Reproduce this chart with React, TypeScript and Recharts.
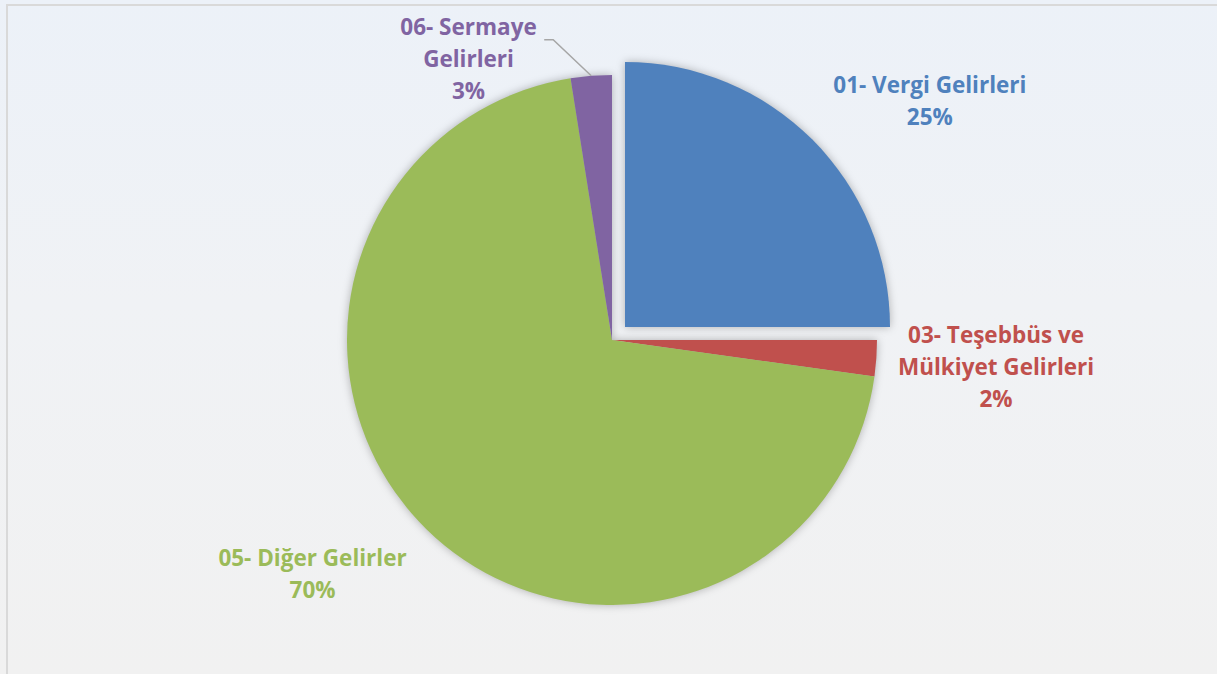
import React from "react";
import { PieChart, Pie, Cell } from "recharts";

const categories = ["01- Vergi Gelirleri", "03- Teşebbüs ve Mülkiyet Gelirleri", "05- Diğer Gelirler", "06- Sermaye Gelirleri"];
const values = [25.0, 2.2, 70.3, 2.5];
const percentLabels = ["25%", "2%", "70%", "3%"];
const labelLines = [["01- Vergi Gelirleri"], ["03- Teşebbüs ve", "Mülkiyet Gelirleri"], ["05- Diğer Gelirler"], ["06- Sermaye", "Gelirleri"]];
const colors = ["#4F81BD", "#C0504D", "#9BBB59", "#8064A2"];

const data = categories.map((name, i) => ({ name, value: values[i] }));

// label placement (polar: angle in degrees, radius in px from pie centre)
const LABEL_POLAR = [
  { a: 37, r: 398 },
  { a: -4, r: 385 },
  { a: -142, r: 380 },
  { a: 117, r: 316 },
];
const RAD = Math.PI / 180;
const LINE_H = 32;
const FONT = "'Open Sans', sans-serif";

const renderLabel = (props: any) => {
  const { cx, cy, midAngle, outerRadius, index } = props;
  const lp = LABEL_POLAR[index];
  const x = cx + lp.r * Math.cos(lp.a * RAD);
  const y = cy - lp.r * Math.sin(lp.a * RAD);
  const lines = [...labelLines[index], percentLabels[index]];
  const y0 = y - ((lines.length - 1) * LINE_H) / 2;
  let leader = null;
  if (index === 3) {
    const px = cx + outerRadius * Math.cos(midAngle * RAD);
    const py = cy - outerRadius * Math.sin(midAngle * RAD);
    const ex = px - 38;
    const ey = py - 36;
    leader = (
      <polyline points={`${px},${py} ${ex},${ey} ${ex - 9},${ey}`} fill="none" stroke="#A6A6A6" strokeWidth={1.5} />
    );
  }
  return (
    <g key={`lbl-${index}`}>
      {leader}
      <text x={x} y={y0} textAnchor="middle" fill={colors[index]} fontFamily={FONT} fontWeight="bold" fontSize={22.5}>
        {lines.map((t, i) => (
          <tspan key={i} x={x} y={y0 + i * LINE_H} dominantBaseline="central">
            {t}
          </tspan>
        ))}
      </text>
    </g>
  );
};

export default function App() {
  return (
    <div
      style={{
        position: "absolute",
        left: 0,
        top: 0,
        width: 1217,
        height: 674,
        background: "linear-gradient(180deg, #ECF1F8 0%, #F0F2F5 45%, #F1F1F1 100%)",
        overflow: "hidden",
      }}
    >
      <style>{`.recharts-pie { filter: drop-shadow(0px 0px 4px rgba(0,0,0,0.28)); }`}</style>
      <div
        style={{
          position: "absolute",
          left: 6,
          top: 4,
          width: 1230,
          height: 700,
          border: "2px solid #D9D9D9",
          boxSizing: "border-box",
        }}
      />
      <div style={{ position: "absolute", left: 0, top: 0 }}>
        <PieChart width={1217} height={674} margin={{ top: 0, right: 0, bottom: 0, left: 0 }}>
          <Pie
            data={data}
            dataKey="value"
            nameKey="name"
            cx={612}
            cy={340}
            outerRadius={265}
            startAngle={90}
            endAngle={-270}
            stroke="none"
            isAnimationActive={false}
            labelLine={false}
            label={renderLabel}
          >
            {data.map((d, i) => (
              <Cell key={d.name} fill={i === 0 ? "transparent" : colors[i]} />
            ))}
          </Pie>
          <Pie
            data={data}
            dataKey="value"
            nameKey="name"
            cx={625}
            cy={327}
            outerRadius={265}
            startAngle={90}
            endAngle={-270}
            stroke="none"
            isAnimationActive={false}
            labelLine={false}
          >
            {data.map((d, i) => (
              <Cell key={d.name} fill={i === 0 ? colors[0] : "transparent"} />
            ))}
          </Pie>
        </PieChart>
      </div>
    </div>
  );
}
